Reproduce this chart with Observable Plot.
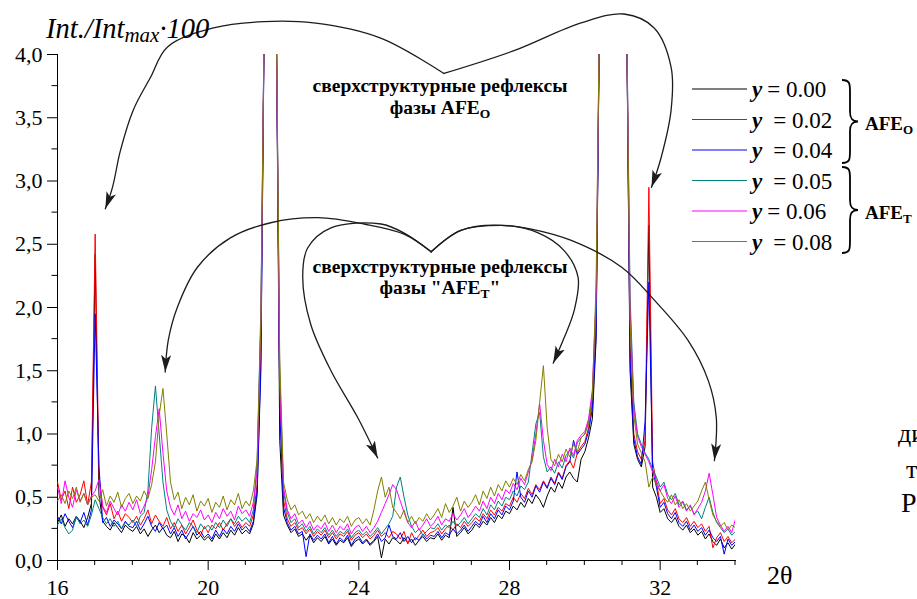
<!DOCTYPE html>
<html><head><meta charset="utf-8">
<script src="https://cdn.jsdelivr.net/npm/d3@7"></script>
<script src="https://cdn.jsdelivr.net/npm/@observablehq/plot@0.6"></script>
<style>
html,body{margin:0;padding:0;background:#fff;}
#chart{width:917px;height:599px;overflow:hidden;position:relative;}
#chart svg text, #chart svg tspan{font-family:"Liberation Serif","Times New Roman",serif !important;}
</style></head><body><div id="chart"></div>
<script>
// 2θ sampling grid (degrees)
const twoTheta = [
16,16.1,16.2,16.3,16.4,16.5,16.6,16.7,16.8,16.9,
17,17.1,17.2,17.3,17.4,17.5,17.6,17.7,17.8,17.9,
18,18.1,18.2,18.3,18.4,18.5,18.6,18.7,18.8,18.9,
19,19.1,19.2,19.3,19.4,19.5,19.6,19.7,19.8,19.9,
20,20.1,20.2,20.3,20.4,20.5,20.6,20.7,20.8,20.9,
21,21.1,21.2,21.3,21.4,21.5,21.6,21.7,21.8,21.9,
22,22.1,22.2,22.3,22.4,22.5,22.6,22.7,22.8,22.9,
23,23.1,23.2,23.3,23.4,23.5,23.6,23.7,23.8,23.9,
24,24.1,24.2,24.3,24.4,24.5,24.6,24.7,24.8,24.9,
25,25.1,25.2,25.3,25.4,25.5,25.6,25.7,25.8,25.9,
26,26.1,26.2,26.3,26.4,26.5,26.6,26.7,26.8,26.9,
27,27.1,27.2,27.3,27.4,27.5,27.6,27.7,27.8,27.9,
28,28.1,28.2,28.3,28.4,28.5,28.6,28.7,28.8,28.9,
29,29.1,29.2,29.3,29.4,29.5,29.6,29.7,29.8,29.9,
30,30.1,30.2,30.3,30.4,30.5,30.6,30.7,30.8,30.9,
31,31.1,31.2,31.3,31.4,31.5,31.6,31.7,31.8,31.9,
32,32.1,32.2,32.3,32.4,32.5,32.6,32.7,32.8,32.9,
33,33.1,33.2,33.3,33.4,33.5,33.6,33.7,33.8,33.9,
34];

// Int./Int_max·100 for each composition y (values above 4 are off-scale peaks)
const y000 = [
0.30,0.36,0.27,0.33,0.29,0.35,0.31,0.26,0.34,0.45,
2.42,0.52,0.31,0.27,0.24,0.30,0.26,0.22,0.28,0.25,
0.23,0.27,0.21,0.25,0.19,0.24,0.28,0.22,0.26,0.20,
0.18,0.23,0.15,0.21,0.19,0.14,0.22,0.17,0.20,0.16,
0.19,0.15,0.21,0.17,0.22,0.18,0.24,0.20,0.26,0.21,
0.24,0.21,0.29,0.52,1.60,4.6,4.6,4.6,4.6,0.95,
0.36,0.28,0.22,0.25,0.19,0.21,0.16,0.20,0.14,0.18,
0.15,0.19,0.13,0.17,0.12,0.16,0.14,0.18,0.11,0.15,
0.17,0.13,0.16,0.12,0.15,0.19,0.02,0.17,0.13,0.18,
0.16,0.13,0.18,0.14,0.17,0.12,0.16,0.19,0.15,0.18,
0.17,0.21,0.16,0.20,0.18,0.42,0.19,0.22,0.26,0.21,
0.24,0.29,0.26,0.31,0.28,0.34,0.30,0.36,0.33,0.39,
0.37,0.43,0.40,0.46,0.42,0.49,0.45,0.52,0.48,0.42,
0.51,0.58,0.54,0.62,0.57,0.66,0.70,0.65,0.62,0.80,
0.86,0.97,1.12,1.75,4.6,4.6,4.6,4.6,4.6,4.6,
4.6,4.6,1.50,0.92,0.80,0.74,0.90,2.65,0.58,0.50,
0.38,0.41,0.33,0.30,0.34,0.27,0.24,0.28,0.22,0.25,
0.20,0.23,0.17,0.21,0.15,0.12,0.17,0.10,0.14,0.09,
0.13];
const y002 = [
0.62,0.48,0.55,0.41,0.58,0.46,0.52,0.63,0.44,0.62,
2.58,0.68,0.42,0.36,0.45,0.33,0.39,0.31,0.37,0.34,
0.30,0.35,0.28,0.33,0.40,0.29,0.36,0.31,0.27,0.34,
0.25,0.30,0.23,0.28,0.21,0.26,0.32,0.24,0.20,0.27,
0.22,0.28,0.25,0.30,0.24,0.29,0.33,0.27,0.31,0.26,
0.30,0.27,0.36,0.60,1.80,4.6,4.6,4.6,4.6,1.30,
0.48,0.33,0.27,0.30,0.24,0.26,0.21,0.25,0.19,0.23,
0.20,0.24,0.18,0.22,0.17,0.21,0.19,0.23,0.16,0.20,
0.22,0.18,0.21,0.17,0.20,0.24,0.19,0.22,0.18,0.23,
0.21,0.17,0.23,0.13,0.22,0.16,0.20,0.24,0.19,0.22,
0.23,0.26,0.21,0.25,0.28,0.24,0.29,0.26,0.31,0.27,
0.30,0.34,0.31,0.37,0.33,0.40,0.36,0.42,0.39,0.45,
0.43,0.50,0.46,0.53,0.49,0.57,0.52,0.60,0.56,0.63,
0.58,0.66,0.61,0.70,0.65,0.75,0.79,0.73,0.85,0.90,
0.94,1.05,1.25,1.90,4.6,4.6,4.6,4.6,4.6,4.6,
4.6,4.6,1.70,1.00,0.86,0.80,0.95,2.95,0.78,0.62,
0.45,0.49,0.40,0.36,0.41,0.33,0.30,0.34,0.27,0.31,
0.26,0.29,0.23,0.27,0.10,0.18,0.22,0.15,0.19,0.14,
0.17];
const y004 = [
0.35,0.29,0.37,0.31,0.26,0.34,0.30,0.38,0.28,0.40,
1.95,0.75,0.30,0.34,0.27,0.32,0.29,0.25,0.31,0.27,
0.26,0.31,0.24,0.29,0.35,0.27,0.23,0.30,0.25,0.28,
0.21,0.26,0.19,0.24,0.17,0.22,0.27,0.20,0.23,0.18,
0.21,0.17,0.24,0.19,0.25,0.21,0.27,0.23,0.29,0.24,
0.27,0.23,0.31,0.55,1.50,4.6,4.6,4.6,4.6,1.20,
0.42,0.30,0.24,0.27,0.21,0.23,0.03,0.21,0.16,0.20,
0.17,0.21,0.14,0.19,0.13,0.18,0.15,0.20,0.12,0.17,
0.19,0.14,0.17,0.13,0.16,0.21,0.15,0.18,0.28,0.19,
0.17,0.22,0.15,0.19,0.14,0.18,0.16,0.21,0.17,0.20,
0.19,0.23,0.18,0.22,0.20,0.25,0.21,0.24,0.28,0.23,
0.27,0.31,0.28,0.35,0.30,0.37,0.33,0.40,0.36,0.43,
0.40,0.47,0.70,0.50,0.46,0.55,0.50,0.59,0.54,0.62,
0.57,0.65,0.60,0.69,0.64,0.74,0.78,0.95,0.84,0.88,
0.92,1.02,1.20,1.80,4.6,4.6,4.6,4.6,4.6,4.6,
4.6,4.6,1.60,0.96,0.82,0.76,1.10,2.20,0.72,0.58,
0.42,0.46,0.37,0.33,0.38,0.30,0.27,0.31,0.24,0.28,
0.23,0.26,0.20,0.24,0.18,0.15,0.19,0.05,0.17,0.12,
0.15];
const y005 = [
0.28,0.33,0.26,0.21,0.24,0.35,0.29,0.32,0.27,0.36,
0.48,0.41,0.34,0.29,0.33,0.27,0.31,0.25,0.30,0.28,
0.32,0.27,0.35,0.38,0.55,1.05,1.38,1.00,0.62,0.40,
0.31,0.26,0.33,0.28,0.24,0.30,0.27,0.22,0.29,0.25,
0.28,0.24,0.30,0.26,0.32,0.27,0.33,0.29,0.35,0.31,
0.34,0.30,0.40,0.78,2.00,4.6,4.6,4.6,4.6,1.50,
0.55,0.38,0.30,0.33,0.26,0.29,0.23,0.27,0.21,0.25,
0.22,0.26,0.20,0.24,0.19,0.23,0.21,0.25,0.18,0.22,
0.24,0.20,0.23,0.19,0.22,0.26,0.21,0.25,0.29,0.35,
0.58,0.66,0.50,0.36,0.27,0.22,0.25,0.20,0.23,0.26,
0.25,0.29,0.24,0.28,0.26,0.31,0.27,0.30,0.34,0.29,
0.33,0.37,0.34,0.41,0.36,0.44,0.40,0.47,0.43,0.50,
0.48,0.55,0.51,0.59,0.56,0.62,0.85,1.08,1.17,0.82,
0.70,0.74,0.69,0.78,0.73,0.83,0.87,0.81,0.93,0.97,
1.00,1.10,1.30,2.00,4.6,4.6,4.6,4.6,4.6,4.6,
4.6,4.6,2.10,1.25,1.00,0.92,0.85,0.80,0.72,0.66,
0.58,0.62,0.52,0.48,0.53,0.44,0.47,0.40,0.43,0.37,
0.39,0.33,0.42,0.50,0.38,0.30,0.26,0.22,0.25,0.20,
0.23];
const y006 = [
0.58,0.45,0.63,0.50,0.42,0.56,0.47,0.53,0.44,0.51,
0.55,0.64,0.43,0.38,0.47,0.41,0.36,0.44,0.39,0.46,
0.40,0.48,0.37,0.43,0.50,0.72,0.98,1.20,0.85,0.55,
0.42,0.36,0.44,0.33,0.39,0.31,0.37,0.34,0.40,0.32,
0.36,0.30,0.38,0.33,0.41,0.35,0.39,0.32,0.43,0.37,
0.40,0.35,0.46,0.70,1.90,4.6,4.6,4.6,4.6,1.40,
0.58,0.40,0.33,0.37,0.29,0.32,0.26,0.31,0.24,0.28,
0.25,0.30,0.23,0.28,0.22,0.27,0.24,0.29,0.21,0.26,
0.28,0.23,0.27,0.22,0.26,0.31,0.38,0.45,0.52,0.60,
0.56,0.47,0.38,0.30,0.26,0.31,0.24,0.28,0.33,0.27,
0.30,0.35,0.28,0.33,0.31,0.37,0.32,0.36,0.41,0.34,
0.38,0.43,0.39,0.47,0.41,0.50,0.45,0.53,0.48,0.56,
0.53,0.61,0.56,0.65,0.60,0.70,0.80,1.00,1.24,0.95,
0.76,0.71,0.80,0.74,0.84,0.78,0.89,0.83,0.95,0.99,
1.02,1.12,1.35,2.10,4.6,4.6,4.6,4.6,4.6,4.6,
4.6,4.6,2.00,1.20,0.98,0.90,0.84,0.78,0.70,0.63,
0.55,0.60,0.49,0.45,0.51,0.42,0.46,0.39,0.44,0.36,
0.41,0.46,0.55,0.69,0.52,0.34,0.28,0.23,0.27,0.22,
0.33];
const y008 = [
0.47,0.52,0.45,0.55,0.49,0.58,0.46,0.53,0.44,0.50,
0.52,0.47,0.56,0.43,0.51,0.46,0.54,0.42,0.49,0.53,
0.45,0.51,0.47,0.55,0.49,0.60,0.78,1.15,1.36,1.00,
0.62,0.48,0.54,0.41,0.50,0.44,0.52,0.39,0.47,0.43,
0.49,0.38,0.46,0.42,0.51,0.40,0.48,0.44,0.53,0.41,
0.47,0.43,0.55,0.80,1.90,4.6,4.6,4.6,4.6,1.60,
0.62,0.48,0.40,0.44,0.36,0.39,0.33,0.37,0.30,0.35,
0.31,0.36,0.29,0.34,0.28,0.33,0.30,0.35,0.27,0.32,
0.34,0.29,0.33,0.28,0.40,0.55,0.66,0.50,0.58,0.42,
0.38,0.33,0.40,0.30,0.35,0.29,0.34,0.31,0.37,0.32,
0.36,0.41,0.34,0.45,0.38,0.43,0.50,0.39,0.47,0.42,
0.46,0.52,0.44,0.55,0.49,0.58,0.51,0.60,0.55,0.63,
0.58,0.65,0.60,0.68,0.63,0.72,0.78,0.95,1.25,1.54,
1.05,0.80,0.75,0.84,0.78,0.88,0.82,0.92,0.86,0.97,
1.00,1.08,1.30,2.20,4.6,4.6,4.6,4.6,4.6,4.6,
4.6,4.6,1.90,1.15,0.92,0.85,0.78,0.58,0.66,0.60,
0.55,0.50,0.46,0.52,0.44,0.48,0.41,0.45,0.39,0.43,
0.47,0.55,0.62,0.48,0.36,0.31,0.27,0.30,0.24,0.28,
0.26];

const seriesValues = [y000, y002, y004, y005, y006, y008];
const seriesLabels = ["0.00", "0.02", "0.04", "0.05", "0.06", "0.08"];
const seriesColors = ["#000000", "#ff0000", "#0000ff", "#008080", "#ff00ff", "#808000"];

const xTickValues = [16, 20, 24, 28, 32];
const xMinorTicks = [17, 18, 19, 21, 22, 23, 25, 26, 27, 29, 30, 31, 33, 34];
const yTickValues = [0, 0.5, 1, 1.5, 2, 2.5, 3, 3.5, 4];
const yMinorTicks = [0.25, 0.75, 1.25, 1.75, 2.25, 2.75, 3.25, 3.75];

// annotation arrows, in data units (2θ, intensity)
const arrowA1 = [[26.26,3.85],[24.58,4.13],[22.80,4.25],[21.47,4.26],[20.14,4.21],[18.92,4.06],[18.47,3.82],[18.01,3.56],[17.67,3.24],[17.46,2.95],[17.27,2.78]];
const arrowA2 = [[26.26,3.85],[28.12,4.03],[29.90,4.25],[31.04,4.32],[31.84,4.21],[32.29,3.90],[32.29,3.56],[32.03,3.19],[31.77,2.95]];
const arrowB1 = [[25.92,2.44],[25.20,2.58],[24.14,2.66],[22.91,2.71],[21.66,2.67],[20.59,2.55],[19.72,2.32],[19.18,2.00],[18.94,1.74],[18.86,1.49]];
const arrowB2 = [[25.92,2.44],[25.25,2.58],[24.59,2.66],[23.26,2.63],[22.64,2.47],[22.51,2.24],[22.72,1.87],[23.26,1.50],[23.97,1.13],[24.50,0.81]];
const arrowB3 = [[25.92,2.44],[26.71,2.61],[27.78,2.65],[28.76,2.59],[29.45,2.45],[29.82,2.24],[29.72,1.98],[29.45,1.76],[29.16,1.56]];
const arrowB4 = [[25.92,2.44],[26.71,2.61],[27.78,2.65],[28.58,2.62],[29.64,2.53],[30.97,2.32],[31.84,2.06],[32.74,1.74],[33.28,1.42],[33.49,1.13],[33.44,0.79]];
const arrows = [arrowA1, arrowA2, arrowB1, arrowB2, arrowB3, arrowB4];

// ---- tables for the library ----
const seriesRows = seriesValues.map((vals, k) =>
  twoTheta.map((t, i) => ({x: t, y: vals[i], s: seriesLabels[k]})));
const arrowRows = arrows.flatMap((pts, k) => pts.map(p => ({ax: p[0], ay: p[1], id: "a" + k})));

const W = 917, H = 599;
const M = {left: 57, right: 182, top: 54, bottom: 39};
const SERIF = "Liberation Serif, Times New Roman, serif";
const ARROW = "#1c1c1c";

const chart = Plot.plot({
  width: W, height: H,
  marginLeft: M.left, marginRight: M.right, marginTop: M.top, marginBottom: M.bottom,
  style: {fontFamily: SERIF, fontSize: "22px", color: "#000", background: "#fff", overflow: "visible"},
  x: {domain: [16, 34], ticks: xTickValues, tickSize: 10, tickPadding: 9, tickFormat: d => String(d), label: null, line: true},
  y: {domain: [0, 4], ticks: yTickValues, tickSize: 10, tickPadding: 5, tickFormat: d => d.toFixed(1).replace(".", ","), label: null, line: true},
  marks: [
    ...seriesRows.map((rows, k) => Plot.line(rows, {x: "x", y: "y", stroke: seriesColors[k], strokeWidth: 1, clip: true})),
    Plot.line(arrowRows, {x: "ax", y: "ay", z: "id", curve: "catmull-rom", stroke: ARROW, strokeWidth: 1.3})
  ]
});
document.getElementById("chart").appendChild(chart);

// ---- decorations ----
const svg = d3.select(chart);
let X, Y;
try { const sx = chart.scale("x"), sy = chart.scale("y"); X = v => sx.apply(v); Y = v => sy.apply(v); if (isNaN(X(20))) throw 0; }
catch (e) { X = d3.scaleLinear([16, 34], [M.left, W - M.right]); Y = d3.scaleLinear([0, 4], [H - M.bottom, M.top]); }

svg.append("defs").append("marker").attr("id", "ah").attr("viewBox", "-17 -6 18 12")
  .attr("markerWidth", 18).attr("markerHeight", 12).attr("markerUnits", "userSpaceOnUse")
  .attr("refX", 0).attr("refY", 0).attr("orient", "auto")
  .append("path").attr("d", "M-17,-5L0,0L-17,5L-13,0Z").attr("fill", ARROW);
svg.selectAll(`[stroke="${ARROW}"] path, path[stroke="${ARROW}"]`).attr("marker-end", "url(#ah)");

const deco = svg.append("g").attr("font-family", SERIF).attr("fill", "#000").attr("text-anchor", "start");
xMinorTicks.forEach(v => deco.append("line").attr("x1", X(v)).attr("x2", X(v)).attr("y1", Y(0)).attr("y2", Y(0) + 5).attr("stroke", "#000"));
yMinorTicks.forEach(v => deco.append("line").attr("x1", X(16)).attr("x2", X(16) - 5.5).attr("y1", Y(v)).attr("y2", Y(v)).attr("stroke", "#000"));

// y-axis title
const title = deco.append("text").attr("x", 46).attr("y", 38).attr("font-size", 28.5).attr("font-style", "italic");
title.append("tspan").text("Int./Int");
title.append("tspan").attr("font-size", 21).attr("dy", 4).text("max");
title.append("tspan").attr("dy", -4).text("·100");

// x-axis title
deco.append("text").attr("x", 767).attr("y", 584).attr("font-size", 26).text("2θ");

// annotation texts
function annot(cx, y1, y2, sub, quote) {
  deco.append("text").attr("x", cx).attr("y", y1).attr("text-anchor", "middle").attr("font-size", 19.5).attr("font-weight", "bold").text("сверхструктурные рефлексы");
  const t = deco.append("text").attr("x", cx).attr("y", y2).attr("text-anchor", "middle").attr("font-size", 19.5).attr("font-weight", "bold");
  t.append("tspan").text(quote ? "фазы \"AFE" : "фазы AFE");
  t.append("tspan").attr("font-size", 13.5).attr("dy", 4).text(sub);
  if (quote) t.append("tspan").attr("dy", -4).text("\"");
}
annot(440, 92, 114, "O", false);
annot(440, 273, 294, "T", true);

// legend
const rowY = [89, 119.5, 150, 180.5, 211, 241.5];
const wideGap = [false, true, true, true, false, true];
seriesLabels.forEach((lab, k) => {
  deco.append("line").attr("x1", 692).attr("x2", 747).attr("y1", rowY[k]).attr("y2", rowY[k]).attr("stroke", seriesColors[k]).attr("stroke-width", 1.2);
  const t = deco.append("text").attr("x", 752).attr("y", rowY[k] + 8).attr("font-size", 23);
  t.append("tspan").attr("font-weight", "bold").attr("font-style", "italic").text("y");
  t.append("tspan").attr("dx", wideGap[k] ? 11 : 5).text("= " + lab);
});
function brace(x0, yTop, yBot, w) {
  const ym = (yTop + yBot) / 2, xm = x0 + w / 2, xt = x0 + w;
  const d = `M${x0},${yTop} C${xm},${yTop} ${xm},${yTop + 4} ${xm},${yTop + 12} L${xm},${ym - 10} C${xm},${ym - 3} ${xm + 2},${ym} ${xt},${ym} C${xm + 2},${ym} ${xm},${ym + 3} ${xm},${ym + 10} L${xm},${yBot - 12} C${xm},${yBot - 4} ${xm},${yBot} ${x0},${yBot}`;
  deco.append("path").attr("d", d).attr("fill", "none").attr("stroke", "#000").attr("stroke-width", 1.8);
}
brace(842, 80, 163, 16);
brace(842, 167, 253, 16);
const ao = deco.append("text").attr("x", 865).attr("y", 130).attr("font-size", 19).attr("font-weight", "bold");
ao.append("tspan").text("AFE"); ao.append("tspan").attr("font-size", 13).attr("dy", 4).text("O");
const at = deco.append("text").attr("x", 865).attr("y", 219).attr("font-size", 19).attr("font-weight", "bold");
at.append("tspan").text("AFE"); at.append("tspan").attr("font-size", 13).attr("dy", 4).text("T");

// cut-off text fragments at the right edge
deco.append("text").attr("x", 898).attr("y", 442).attr("font-size", 26).text("ди");
deco.append("text").attr("x", 906).attr("y", 478).attr("font-size", 26).text("т");
deco.append("text").attr("x", 901).attr("y", 512).attr("font-size", 28).text("Р");
</script>
</body></html>
